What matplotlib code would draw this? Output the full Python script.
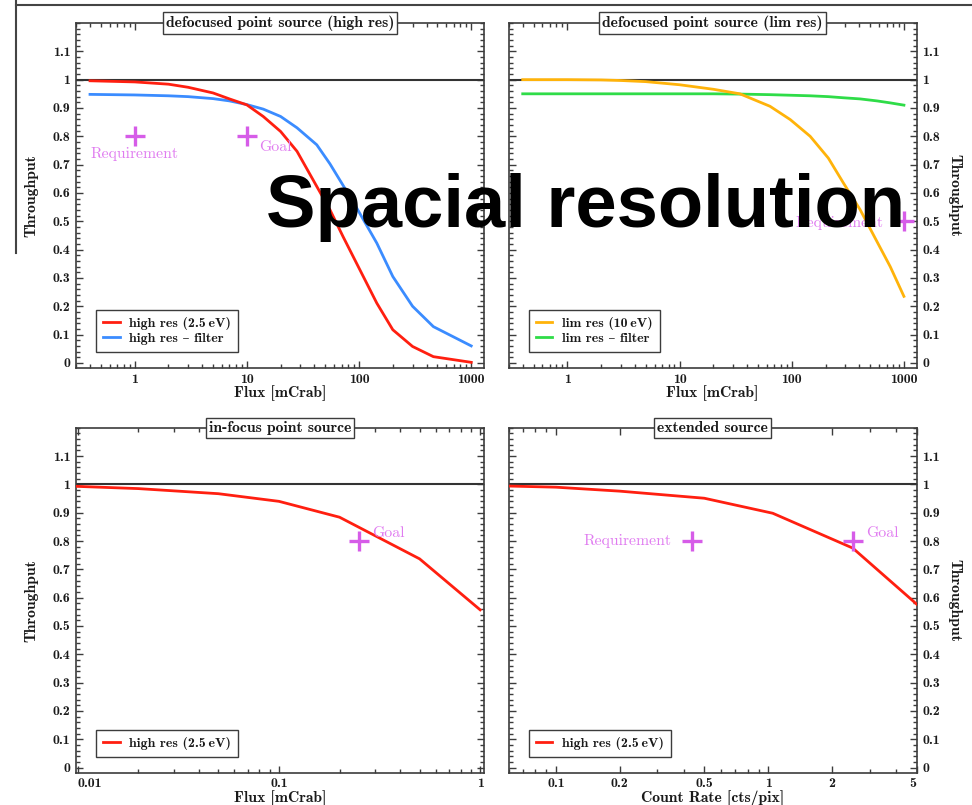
import matplotlib
matplotlib.use("Agg")
import matplotlib.pyplot as plt
from matplotlib.lines import Line2D
from matplotlib.ticker import FixedLocator, FixedFormatter, NullFormatter

# ---------------- data ----------------
flux_hr = [0.4, 1, 2, 3, 5, 7, 10, 14, 20, 28, 42, 55, 72, 95, 144, 200, 300, 460, 1000]
tp_high_res = [0.996, 0.992, 0.984, 0.973, 0.953, 0.932, 0.911, 0.870, 0.817, 0.747,
               0.623, 0.541, 0.446, 0.352, 0.211, 0.117, 0.058, 0.022, 0.002]
tp_high_res_filter = [0.948, 0.946, 0.943, 0.940, 0.933, 0.925, 0.912, 0.896, 0.870, 0.830,
                      0.770, 0.703, 0.627, 0.548, 0.423, 0.305, 0.200, 0.128, 0.060]

flux_lr = [0.4, 1, 2, 3, 5, 10, 20, 34.5, 64, 97, 146, 212, 289, 407, 574, 755, 1000]
tp_lim_res = [1.0, 1.0, 0.999, 0.997, 0.993, 0.982, 0.966, 0.950, 0.906, 0.859,
              0.800, 0.723, 0.635, 0.541, 0.429, 0.340, 0.235]
tp_lim_res_filter = [0.950, 0.950, 0.950, 0.950, 0.950, 0.950, 0.950, 0.949, 0.947, 0.945,
                     0.943, 0.940, 0.936, 0.932, 0.925, 0.918, 0.910]

flux_focus = [0.0098, 0.02, 0.05, 0.1, 0.2, 0.5, 1.0]
tp_focus = [0.993, 0.985, 0.967, 0.940, 0.884, 0.737, 0.557]

rate_ext = [0.06, 0.1, 0.2, 0.5, 1.05, 2.5, 5.0]
tp_ext = [0.994, 0.990, 0.976, 0.951, 0.898, 0.775, 0.577]

y_ticks = [0, 0.1, 0.2, 0.3, 0.4, 0.5, 0.6, 0.7, 0.8, 0.9, 1.0, 1.1]
y_ticklabels = ["0", "0.1", "0.2", "0.3", "0.4", "0.5", "0.6", "0.7", "0.8", "0.9", "1", "1.1"]

flux_ticks = [1, 10, 100, 1000]
flux_ticklabels = ["1", "10", "100", "1000"]
focus_ticks = [0.01, 0.1, 1]
focus_ticklabels = ["0.01", "0.1", "1"]
rate_ticks = [0.1, 0.2, 0.5, 1, 2, 5]
rate_ticklabels = ["0.1", "0.2", "0.5", "1", "2", "5"]

# ---------------- style ----------------
FONT = ["cmb10", "DejaVu Serif"]
FS_TICK = 10
FS_LEG = 10
FS_LABEL = 11.3
FS_TITLE = 11.3
FS_NOTE = 11.3
SPINE = "#3c3c3c"
RED = "#ff1f10"
BLUE = "#3b8cff"
ORANGE = "#ffb30a"
GREEN = "#2fdc48"
MAG = "#d65ce8"
MAG_TXT = "#e07cf0"

plt.rcParams["font.family"] = FONT
plt.rcParams["font.size"] = FS_TICK

W, H = 972, 805
fig = plt.figure(figsize=(W / 100, H / 100), dpi=100)


def px_axes(left, top, right, bottom):
    return fig.add_axes([left / W, 1 - bottom / H, (right - left) / W, (bottom - top) / H])


def minor_log(lo, hi, majors):
    vals = []
    dec = 1e-3
    while dec < hi * 10:
        for m in range(1, 10):
            v = dec * m
            if lo <= v <= hi and not any(abs(v - t) / t < 1e-6 for t in majors):
                vals.append(v)
        dec *= 10
    return vals


def style_axes(ax, xlim, xticks, xticklabels, right_side, title, xlabel):
    ax.set_xscale("log")
    ax.set_xlim(*xlim)
    ax.set_ylim(-0.018, 1.2)
    for s in ax.spines.values():
        s.set_color(SPINE)
        s.set_linewidth(1.2)
    ax.xaxis.set_major_locator(FixedLocator(xticks))
    ax.xaxis.set_major_formatter(FixedFormatter(xticklabels))
    ax.xaxis.set_minor_locator(FixedLocator(minor_log(xlim[0], xlim[1], xticks)))
    ax.xaxis.set_minor_formatter(NullFormatter())
    ax.yaxis.set_major_locator(FixedLocator(y_ticks))
    ax.yaxis.set_major_formatter(FixedFormatter(y_ticklabels))
    ax.yaxis.set_minor_locator(FixedLocator([i * 0.02 for i in range(61)]))
    ax.tick_params(which="both", direction="in", top=True, bottom=True, left=True, right=True,
                   color=SPINE, width=1.0, labelsize=FS_TICK, labelcolor="#1a1a1a")
    ax.tick_params(which="major", length=5)
    ax.tick_params(which="minor", length=2.8)
    ax.tick_params(axis="x", pad=4)
    ax.tick_params(axis="y", pad=4)
    if right_side:
        ax.tick_params(axis="y", labelleft=False, labelright=True)
        ax.yaxis.set_label_position("right")
        ax.set_ylabel("Throughput", rotation=270, va="center", fontsize=FS_LABEL, color="#1a1a1a")
        ax.yaxis.set_label_coords(1.092, 0.5)
    else:
        ax.set_ylabel("Throughput", fontsize=FS_LABEL, color="#1a1a1a")
        ax.yaxis.set_label_coords(-0.092, 0.5)
    ax.set_xlabel(xlabel, fontsize=FS_LABEL, color="#1a1a1a", labelpad=0)
    ax.axhline(1.0, color="#333333", lw=1.5, zorder=2)
    ax.text(0.5, 1.0, title, transform=ax.transAxes, ha="center", va="center",
            fontsize=FS_TITLE, color="#1a1a1a", zorder=10,
            bbox=dict(boxstyle="square,pad=0.2", fc="white", ec=SPINE, lw=1.0))


def add_legend(ax):
    leg = ax.legend(loc="lower left", bbox_to_anchor=(0.049, 0.046), borderaxespad=0,
                    fancybox=False, framealpha=1, edgecolor=SPINE, fontsize=FS_LEG,
                    handlelength=1.2, handletextpad=0.7, borderpad=0.5, labelspacing=0.2)
    leg.get_frame().set_linewidth(1.0)
    for t in leg.get_texts():
        t.set_color("#1a1a1a")


def cross(ax, x, y):
    ax.plot([x], [y], marker="+", ms=15, mew=2.4, color=MAG, zorder=6, linestyle="none")


def note(ax, text, x, y, dx, dy, ha):
    ax.annotate(text, xy=(x, y), xytext=(dx, dy), textcoords="offset points",
                ha=ha, va="center", fontsize=FS_NOTE, color=MAG_TXT,
                family=["cmr10", "DejaVu Serif"], zorder=6)


# ---------------- panels ----------------
ax1 = px_axes(76, 23, 484, 368)
ax2 = px_axes(508.7, 23, 916.7, 368)
ax3 = px_axes(76, 427.7, 484, 772.7)
ax4 = px_axes(508.7, 427.7, 916.7, 772.7)

# defocused point source, high resolution
ax1.plot(flux_hr, tp_high_res, color=RED, lw=2, label="high res (2.5\u2009eV)", zorder=4)
ax1.plot(flux_hr, tp_high_res_filter, color=BLUE, lw=2, label="high res \u2013 filter", zorder=3)
style_axes(ax1, (0.3, 1300), flux_ticks, flux_ticklabels, False,
           "defocused point source (high res)", "Flux [mCrab]")
cross(ax1, 1, 0.8)
note(ax1, "Requirement", 1, 0.8, 0, -12.5, "center")
cross(ax1, 10, 0.8)
note(ax1, "Goal", 10, 0.8, 9, -8, "left")
add_legend(ax1)

# defocused point source, limited resolution
ax2.plot(flux_lr, tp_lim_res, color=ORANGE, lw=2, label="lim res (10\u2009eV)", zorder=4)
ax2.plot(flux_lr, tp_lim_res_filter, color=GREEN, lw=2, label="lim res \u2013 filter", zorder=3)
style_axes(ax2, (0.3, 1300), flux_ticks, flux_ticklabels, True,
           "defocused point source (lim res)", "Flux [mCrab]")
cross(ax2, 1000, 0.5)
note(ax2, "Requirement", 1000, 0.5, -15, -1.5, "right")
add_legend(ax2)

# in-focus point source
ax3.plot(flux_focus, tp_focus, color=RED, lw=2, label="high res (2.5\u2009eV)", zorder=4)
style_axes(ax3, (0.0098, 1.045), focus_ticks, focus_ticklabels, False,
           "in-focus point source", "Flux [mCrab]")
ax3.get_xticklabels()[0].set_horizontalalignment("left")
cross(ax3, 0.25, 0.8)
note(ax3, "Goal", 0.25, 0.8, 9.5, 6, "left")
add_legend(ax3)

# extended source
ax4.plot(rate_ext, tp_ext, color=RED, lw=2, label="high res (2.5\u2009eV)", zorder=4)
style_axes(ax4, (0.06, 5.0), rate_ticks, rate_ticklabels, True,
           "extended source", "Count Rate [cts/pix]")
ax4.get_xticklabels()[-1].set_horizontalalignment("right")
cross(ax4, 0.44, 0.8)
note(ax4, "Requirement", 0.44, 0.8, -15, 0, "right")
cross(ax4, 2.5, 0.8)
note(ax4, "Goal", 2.5, 0.8, 9.5, 6, "left")
add_legend(ax4)

# slide frame lines
fig.add_artist(Line2D([16 / W, 1.0], [1 - 5 / H, 1 - 5 / H], transform=fig.transFigure,
                      color="#444444", lw=1.5))
fig.add_artist(Line2D([16 / W, 16 / W], [1.0, 1 - 253 / H], transform=fig.transFigure,
                      color="#444444", lw=1.5))

# heading
fig.text(586 / W, 1 - 226.7 / H, "Spacial resolution", ha="center", va="baseline",
         fontsize=53.5, fontweight="bold", family=["Liberation Sans", "DejaVu Sans"],
         color="black", zorder=20)

fig.savefig("out.png", dpi=100, facecolor="white")
